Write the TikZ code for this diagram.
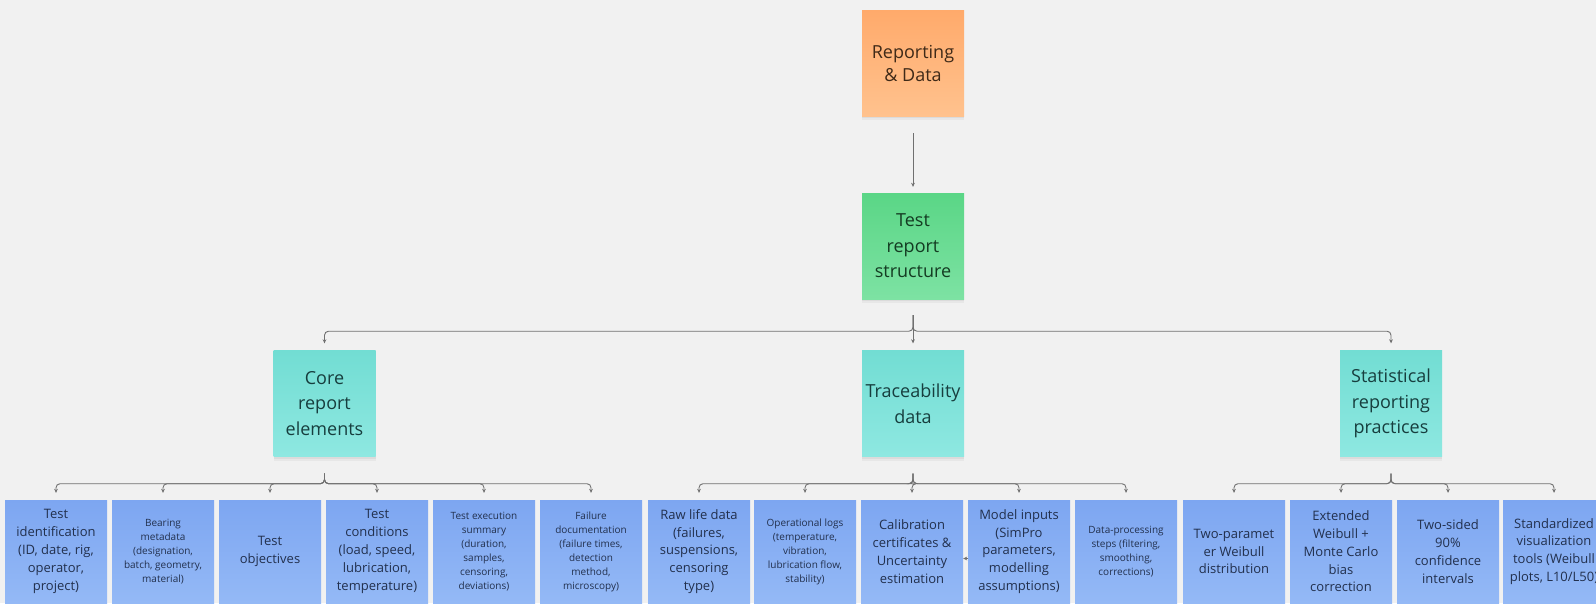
\documentclass[tikz,border=0pt]{standalone}
\usepackage{fontspec}
\setmainfont{Open Sans}
\usetikzlibrary{arrows.meta,shadows}

\definecolor{canvas}{HTML}{F1F1F1}
\definecolor{orTop}{HTML}{FFAA6B}
\definecolor{orBot}{HTML}{FFC28E}
\definecolor{orText}{HTML}{3F2A18}
\definecolor{grTop}{HTML}{5AD686}
\definecolor{grBot}{HTML}{7DE2A3}
\definecolor{grText}{HTML}{143B22}
\definecolor{tlTop}{HTML}{72DDD3}
\definecolor{tlBot}{HTML}{8EE8E1}
\definecolor{tlText}{HTML}{173E3E}
\definecolor{blTop}{HTML}{7DA6F1}
\definecolor{blBot}{HTML}{94B9F6}
\definecolor{blText}{HTML}{22304D}
\definecolor{wire}{HTML}{707070}

\tikzset{
  card/.style={minimum width=102pt, minimum height=106pt, inner sep=0pt,
    align=center, draw=none,
    general shadow={fill=black, opacity=0.05, shadow xshift=0pt, shadow yshift=-2pt},
    general shadow={fill=black, opacity=0.04, shadow xshift=0pt, shadow yshift=-4pt}},
  rootcard/.style={card, top color=orTop, bottom color=orBot, text=orText,
    font=\fontsize{18}{23}\selectfont},
  headcard/.style={card, top color=grTop, bottom color=grBot, text=grText,
    font=\fontsize{18}{25.5}\selectfont},
  groupcard/.style={card, top color=tlTop, bottom color=tlBot, text=tlText,
    font=\fontsize{18}{25.5}\selectfont},
  leafcard/.style={card, minimum height=103pt, top color=blTop,
    bottom color=blBot, text=blText},
  bigtext/.style={font=\fontsize{13}{17.8}\selectfont},
  smalltext/.style={font=\fontsize{10}{14}\selectfont},
  conn/.style={draw=wire, line width=0.9pt, rounded corners=4pt,
    -{Stealth[length=4pt,width=3.8pt]}},
}

\begin{document}
\begin{tikzpicture}[x=1pt,y=-1pt]
  % canvas
  \fill[canvas] (0,0) rectangle (1596,603);
  \useasboundingbox (0,0) rectangle (1596,603);

  % top of the tree
  \node[rootcard] (root) at (913,63) {Reporting\\\& Data};
  \node[headcard] (head) at (913,246) {Test\\report\\structure};

  % groups
  \node[groupcard] (core)  at (324.5,403.5) {Core\\report\\elements};
  \node[groupcard] (trace) at (913,403.5)   {Traceability\\data};
  \node[groupcard] (stat)  at (1391,403.5)  {Statistical\\reporting\\practices};

  % leaves: core report elements
  \node[leafcard,bigtext]   (l1) at (56,551.5)  {Test\\identification\\(ID, date, rig,\\operator,\\project)};
  \node[leafcard,smalltext] (l2) at (163,551.5) {Bearing\\metadata\\(designation,\\batch, geometry,\\material)};
  \node[leafcard,bigtext]   (l3) at (270,551.5) {Test\\objectives};
  \node[leafcard,bigtext]   (l4) at (377,551.5) {Test\\conditions\\(load, speed,\\lubrication,\\temperature)};
  \node[leafcard,smalltext] (l5) at (484,551.5) {Test execution\\summary\\(duration,\\samples,\\censoring,\\deviations)};
  \node[leafcard,smalltext] (l6) at (591,551.5) {Failure\\documentation\\(failure times,\\detection\\method,\\microscopy)};

  % leaves: traceability data
  \node[leafcard,bigtext]   (l7)  at (699,551.5)  {Raw life data\\(failures,\\suspensions,\\censoring\\type)};
  \node[leafcard,smalltext] (l8)  at (805,551.5)  {Operational logs\\(temperature,\\vibration,\\lubrication flow,\\stability)};
  \node[leafcard,bigtext]   (l9)  at (912,551.5)  {Calibration\\certificates \&\\Uncertainty\\estimation};
  \node[leafcard,bigtext]   (l10) at (1019,551.5) {Model inputs\\(SimPro\\parameters,\\modelling\\assumptions)};
  \node[leafcard,smalltext] (l11) at (1126,551.5) {Data-processing\\steps (filtering,\\smoothing,\\corrections)};

  % leaves: statistical reporting practices
  \node[leafcard,bigtext] (l12) at (1234,551.5) {Two-paramet\\er Weibull\\distribution};
  \node[leafcard,bigtext] (l13) at (1341,551.5) {Extended\\Weibull +\\Monte Carlo\\bias\\correction};
  \node[leafcard,bigtext] (l14) at (1448,551.5) {Two-sided\\90\%\\confidence\\intervals};
  \node[leafcard,bigtext] (l15) at (1554,551.5) {Standardized\\visualization\\tools (Weibull\\plots, L10/L50)};

  % connectors
  \draw[conn] ([yshift=-17pt]root.south) -- ([yshift=6pt]head.north);

  \coordinate (headbus) at ([yshift=-32pt]head.south);
  \foreach \c in {core,trace,stat}
    \draw[conn] ([yshift=-16pt]head.south) -- (headbus) -| ([yshift=7pt]\c.north);

  \coordinate (corebus) at ([yshift=-27pt]core.south);
  \foreach \c in {l1,l2,l3,l4,l5,l6}
    \draw[conn] ([yshift=-17pt]core.south) -- (corebus) -| ([yshift=7pt]\c.north);

  \coordinate (tracebus) at ([yshift=-27pt]trace.south);
  \foreach \c in {l7,l8,l9,l10,l11}
    \draw[conn] ([yshift=-17pt]trace.south) -- (tracebus) -| ([yshift=7pt]\c.north);

  \coordinate (statbus) at ([yshift=-27pt]stat.south);
  \foreach \c in {l12,l13,l14,l15}
    \draw[conn] ([yshift=-17pt]stat.south) -- (statbus) -| ([yshift=7pt]\c.north);

  % short link between model inputs and calibration
  \draw[conn] ([yshift=-7pt]l10.west) -- ([yshift=-7pt]l9.east);
\end{tikzpicture}
\end{document}
